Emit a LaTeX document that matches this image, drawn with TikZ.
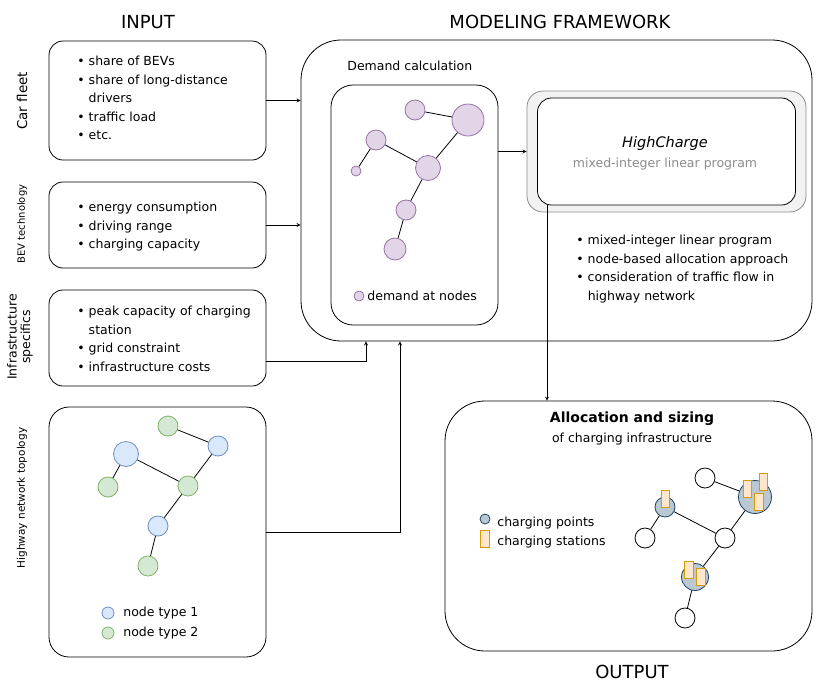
\documentclass[tikz,border=0pt]{standalone}
\usepackage{fontspec}
\setmainfont{DejaVu Sans}
\usepackage{xcolor}
\definecolor{purpfill}{HTML}{E1D5E7}
\definecolor{purpline}{HTML}{9673A6}
\definecolor{bluefill}{HTML}{DAE8FC}
\definecolor{blueline}{HTML}{6C8EBF}
\definecolor{greenfill}{HTML}{D5E8D4}
\definecolor{greenline}{HTML}{82B366}
\definecolor{ptfill}{HTML}{BAC8D3}
\definecolor{ptline}{HTML}{23445D}
\definecolor{stfill}{HTML}{FFE6CC}
\definecolor{stline}{HTML}{D79B00}
\definecolor{hcfill}{HTML}{F2F2F2}
\definecolor{hcline}{HTML}{8C8C8C}
\usetikzlibrary{positioning}

\begin{document}
\begin{tikzpicture}[x=1pt,y=-1pt,>=stealth,line width=0.8pt,
  inbox/.style={draw, rounded corners=14pt, minimum width=217pt, inner sep=0pt},
  bigbox/.style={draw, rounded corners=40pt, inner sep=0pt},
  items/.style={anchor=north west, align=left, inner sep=0pt, font=\fontsize{12.5}{18.5}\selectfont},
  side/.style={rotate=90, align=center, inner sep=0pt, font=\fontsize{13.5}{15}\selectfont},
  sidesmall/.style={rotate=90, inner sep=0pt, font=\fontsize{10}{11}\selectfont},
  title/.style={inner sep=0pt, font=\fontsize{18}{20}\selectfont},
  dem/.style={circle, draw=purpline, fill=purpfill, inner sep=0pt},
  tone/.style={circle, draw=blueline, fill=bluefill, inner sep=0pt, minimum size=20pt},
  ttwo/.style={circle, draw=greenline, fill=greenfill, inner sep=0pt, minimum size=20pt},
  plain/.style={circle, draw, fill=white, inner sep=0pt, minimum size=20pt},
  cpoint/.style={circle, draw=ptline, fill=ptfill, inner sep=0pt},
  cstat/.style={draw=stline, fill=stfill, inner sep=0pt, minimum width=8.5pt, minimum height=17.5pt},
  lbl/.style={anchor=west, inner sep=0pt, font=\fontsize{12.5}{14}\selectfont}]

\useasboundingbox (0,0) rectangle (822,694);

% titles
\node[title] (tin) at (148,22) {INPUT};
\node[title] (tmf) at (560,22) {MODELING FRAMEWORK};
\node[title] (tout) at (632,672) {OUTPUT};

% input boxes
\node[inbox, minimum height=119pt] (fleet) at (157.5,100.5) {};
\node[inbox, minimum height=86pt] (bev) at (157.5,225) {};
\node[inbox, minimum height=96pt] (infra) at (157.5,338) {};
\node[inbox, minimum height=250pt, rounded corners=20pt] (hwy) at (157.5,532) {};

\node[side] (lfleet) at (22,101) {Car fleet};
\node[sidesmall] (lbev) at (22,224) {BEV technology};
\node[side, font=\fontsize{12.5}{13.5}\selectfont] (linfra) at (20,337) {Infrastructure\\specifics};
\node[sidesmall, font=\fontsize{10.5}{12}\selectfont] (lhwy) at (22,498) {Highway network topology};

\node[items] (tfleet) at (77,56) {\textbullet\ share of BEVs\\
  \textbullet\ share of long-distance\\
  \phantom{\textbullet\ }drivers\\
  \textbullet\ traffic load\\
  \textbullet\ etc.};
\node[items] (tbev) at (77,202) {\textbullet\ energy consumption\\
  \textbullet\ driving range\\
  \textbullet\ charging capacity};
\node[items] (tinfra) at (77,306) {\textbullet\ peak capacity of charging\\
  \phantom{\textbullet\ }station\\
  \textbullet\ grid constraint\\
  \textbullet\ infrastructure costs};

% highway network
\node[ttwo] (g1) at (168,426) {};
\node[tone] (b1) at (218,446) {};
\node[tone, minimum size=25pt] (b2) at (126,454) {};
\node[ttwo] (g2) at (108,487) {};
\node[ttwo] (g3) at (188,486) {};
\node[tone] (b3) at (158,526) {};
\node[ttwo] (g4) at (148,566) {};
\draw (g1) -- (b1) (b1) -- (g3) (b2) -- (g2) (b2) -- (g3) (g3) -- (b3) (b3) -- (g4);
\node[tone, minimum size=12pt] (kb) at (108,613) {};
\node[ttwo, minimum size=12pt] (kg) at (108,633) {};
\node[lbl] (tkb) at (123,613) {node type 1};
\node[lbl] (tkg) at (123,633) {node type 2};

% modeling framework
\node[bigbox, minimum width=511pt, minimum height=301pt] (frame) at (556.5,190.5) {};
\node[lbl] (tdem) at (347,66) {Demand calculation};
\node[draw, rounded corners=22pt, minimum width=167pt, minimum height=240pt, inner sep=0pt] (demand) at (414.5,205) {};

\node[dem, minimum size=20pt] (d1) at (415,110) {};
\node[dem, minimum size=32pt] (d2) at (468,120) {};
\node[dem, minimum size=20pt] (d3) at (376,140) {};
\node[dem, minimum size=10pt] (d4) at (356,171) {};
\node[dem, minimum size=25pt] (d5) at (428,168) {};
\node[dem, minimum size=20pt] (d6) at (406,210) {};
\node[dem, minimum size=22pt] (d7) at (395,249) {};
\draw (d1) -- (d2) (d3) -- (d4) (d3) -- (d5) (d5) -- (d2) (d5) -- (d6) (d6) -- (d7);
\node[dem, minimum size=10pt] (kd) at (359,296) {};
\node[lbl] (tkd) at (367,296) {demand at nodes};

\node[draw=hcline, fill=hcfill, rounded corners=16pt, minimum width=279pt, minimum height=121pt, inner sep=0pt] (hc) at (666.5,151.5) {};
\node[draw, fill=white, rounded corners=14pt, minimum width=258pt, minimum height=107pt, inner sep=0pt] (hcin) at (666.5,151.5) {};
\node[align=center, inner sep=0pt, font=\fontsize{14.5}{20}\selectfont] (thc) at (665,153) {\textit{HighCharge}\\
  {\color{hcline}\fontsize{12.5}{14}\selectfont mixed-integer linear program}};
\node[items] (tmilp) at (576,235) {\textbullet\ mixed-integer linear program\\
  \textbullet\ node-based allocation approach\\
  \textbullet\ consideration of traffic flow in\\
  \phantom{\textbullet\ }highway network};

% output
\node[bigbox, minimum width=367pt, minimum height=250pt] (out) at (628.5,526) {};
\node[inner sep=0pt, font=\bfseries\fontsize{14}{16}\selectfont] (talloc) at (632,419) {Allocation and sizing};
\node[inner sep=0pt, font=\fontsize{12.5}{14}\selectfont] (tinfr) at (632,439) {of charging infrastructure};

\node[plain] (w1) at (705,478) {};
\node[cpoint, minimum size=33pt] (p1) at (755,497) {};
\node[cpoint, minimum size=20pt] (p2) at (665,507) {};
\node[plain] (w2) at (645,538) {};
\node[plain] (w3) at (725,538) {};
\node[cpoint, minimum size=27pt] (p3) at (695,577) {};
\node[plain] (w4) at (685,618) {};
\draw (w1) -- (p1) (p1) -- (w3) (p2) -- (w2) (p2) -- (w3) (w3) -- (p3) (p3) -- (w4);
\node[cstat] (s1) at (665.5,499) {};
\node[cstat] (s2) at (747.5,489) {};
\node[cstat] (s3) at (763.5,482) {};
\node[cstat] (s4) at (759,502) {};
\node[cstat] (s5) at (689,570) {};
\node[cstat] (s6) at (701,577) {};

\node[cpoint, minimum size=10pt] (kp) at (485,519) {};
\node[cstat] (ks) at (485,539) {};
\node[lbl] (tkp) at (497,523) {charging points};
\node[lbl] (tks) at (497,542) {charging stations};

% connectors
\draw[->] (fleet.east) -- (fleet.east -| frame.west);
\draw[->] (bev.east) -- (bev.east -| frame.west);
\draw[->] ([yshift=-23pt]infra.east) -| (366,0 |- frame.south);
\draw[->] (hwy.east) -| (400,0 |- frame.south);
\draw[->] (demand.east |- hc.west) -- (hc.west);
\draw[->] (547,0 |- hcin.south) -- (547,0 |- out.north);

\end{tikzpicture}
\end{document}
